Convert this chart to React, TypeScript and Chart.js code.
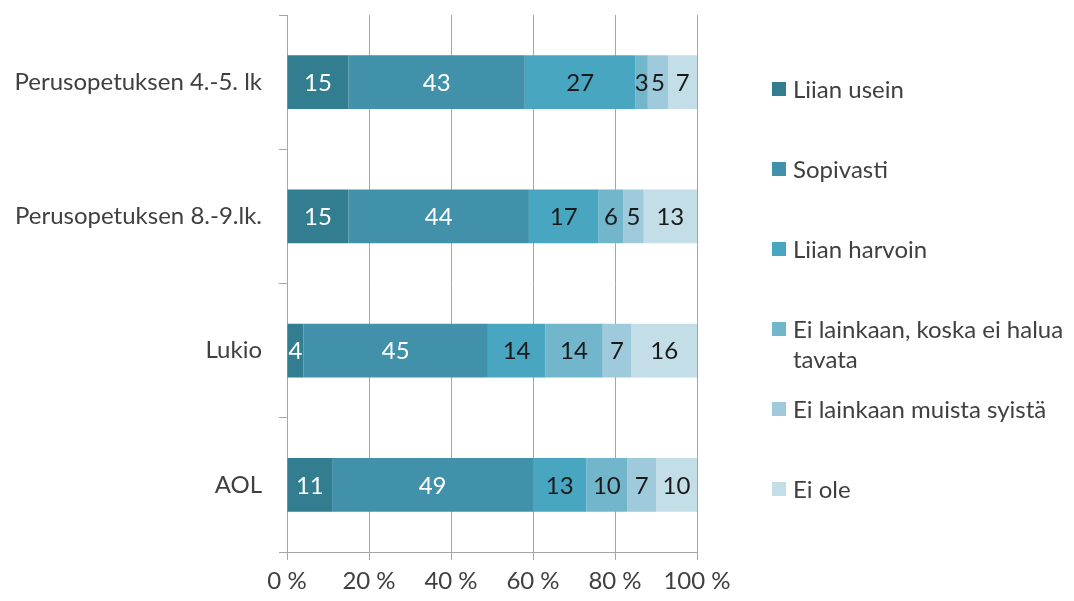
import React, { useEffect, useRef } from 'react';
import { Chart, registerables } from 'chart.js';
Chart.register(...registerables);

const categories = ['Perusopetuksen 4.-5. lk', 'Perusopetuksen 8.-9.lk.', 'Lukio', 'AOL'];
const seriesNames = [
  'Liian usein',
  'Sopivasti',
  'Liian harvoin',
  'Ei lainkaan, koska ei halua tavata',
  'Ei lainkaan muista syistä',
  'Ei ole',
];
const liianUsein = [15, 15, 4, 11];
const sopivasti = [43, 44, 45, 49];
const liianHarvoin = [27, 17, 14, 13];
const eiHaluaTavata = [3, 6, 14, 10];
const eiMuistaSyista = [5, 5, 7, 7];
const eiOle = [7, 13, 16, 10];
const seriesValues = [liianUsein, sopivasti, liianHarvoin, eiHaluaTavata, eiMuistaSyista, eiOle];
const xTickValues = [0, 20, 40, 60, 80, 100];

const colors = ['#327D8F', '#4091A9', '#48A6C0', '#72B6CC', '#9FCADB', '#C3DEE7'];
const labelColors = ['#FFFFFF', '#FFFFFF', '#1A1A1A', '#1A1A1A', '#1A1A1A', '#1A1A1A'];

const FONT = 'Lato, "Open Sans", "DejaVu Sans", sans-serif';
const FS = 24;
const GRID = '#A6A6A6';
const TEXT = '#404040';

const W = 1074;
const H = 601;

const dataLabelPlugin = {
  id: 'dataLabels',
  afterDatasetsDraw(chart: any) {
    const ctx = chart.ctx;
    ctx.save();
    ctx.font = `${FS}px ${FONT}`;
    ctx.textAlign = 'center';
    ctx.textBaseline = 'middle';
    chart.data.datasets.forEach((ds: any, i: number) => {
      const meta = chart.getDatasetMeta(i);
      meta.data.forEach((el: any, j: number) => {
        const v = ds.data[j];
        const p = el.getCenterPoint();
        ctx.fillStyle = labelColors[i];
        ctx.fillText(String(v), p.x, p.y + 1);
      });
    });
    ctx.restore();
  },
};

function wrap(ctx: CanvasRenderingContext2D, text: string, maxW: number): string[] {
  const words = text.split(' ');
  const lines: string[] = [];
  let cur = '';
  for (const w of words) {
    const t = cur ? cur + ' ' + w : w;
    if (ctx.measureText(t).width > maxW && cur) {
      lines.push(cur);
      cur = w;
    } else cur = t;
  }
  if (cur) lines.push(cur);
  return lines;
}

const legendPlugin = {
  id: 'sideLegend',
  afterDraw(chart: any) {
    const ctx = chart.ctx;
    ctx.save();
    ctx.font = `${FS}px ${FONT}`;
    ctx.textBaseline = 'middle';
    ctx.textAlign = 'left';
    const boxX = 772;
    const textX = 793;
    const startY = 89;
    const step = 80;
    const lineH = 30;
    chart.data.datasets.forEach((ds: any, i: number) => {
      const cy = startY + i * step;
      ctx.fillStyle = ds.backgroundColor;
      ctx.fillRect(boxX, cy - 7, 14, 14);
      ctx.fillStyle = TEXT;
      const lines = wrap(ctx, ds.label, W - textX);
      lines.forEach((ln, k) => ctx.fillText(ln, textX, cy + k * lineH + 1));
    });
    ctx.restore();
  },
};

export default function App() {
  const ref = useRef<HTMLCanvasElement>(null);
  useEffect(() => {
    const canvas = ref.current!;
    const chart = new Chart(canvas, {
      type: 'bar',
      data: {
        labels: categories,
        datasets: seriesNames.map((n, i) => ({
          label: n,
          data: seriesValues[i],
          backgroundColor: colors[i],
          borderWidth: 0,
          barPercentage: 0.4,
          categoryPercentage: 1,
        })),
      },
      options: {
        animation: false,
        responsive: false,
        indexAxis: 'y',
        layout: { padding: { left: 0, right: W - 697, top: 15, bottom: 0 } },
        plugins: { legend: { display: false }, tooltip: { enabled: false } },
        scales: {
          x: {
            stacked: true,
            min: 0,
            max: 100,
            afterBuildTicks: (s: any) => {
              s.ticks = xTickValues.map((v) => ({ value: v }));
            },
            ticks: {
              callback: (v: any) => `${v} %`,
              font: { family: FONT, size: FS },
              color: TEXT,
              padding: 7,
              maxRotation: 0,
            },
            grid: { color: GRID, tickLength: 8, drawTicks: true, lineWidth: 1 },
            border: { color: GRID, width: 1 },
            afterFit: (s: any) => {
              s.height = H - 552;
              s.paddingLeft = 0;
              s.paddingRight = 0;
            },
          },
          y: {
            stacked: true,
            ticks: {
              font: { family: FONT, size: FS },
              color: TEXT,
              padding: 17,
            },
            grid: { offset: true, drawOnChartArea: false, tickLength: 8, color: GRID, lineWidth: 1 },
            border: { color: GRID, width: 1 },
            afterFit: (s: any) => {
              s.width = 287;
              s.paddingTop = 0;
              s.paddingBottom = 0;
            },
          },
        },
      },
      plugins: [dataLabelPlugin, legendPlugin],
    });
    return () => chart.destroy();
  }, []);
  return (
    <div style={{ position: 'fixed', left: 0, top: 0, width: W, height: H, background: '#fff' }}>
      <canvas ref={ref} width={W} height={H} style={{ width: W, height: H, display: 'block' }} />
    </div>
  );
}
